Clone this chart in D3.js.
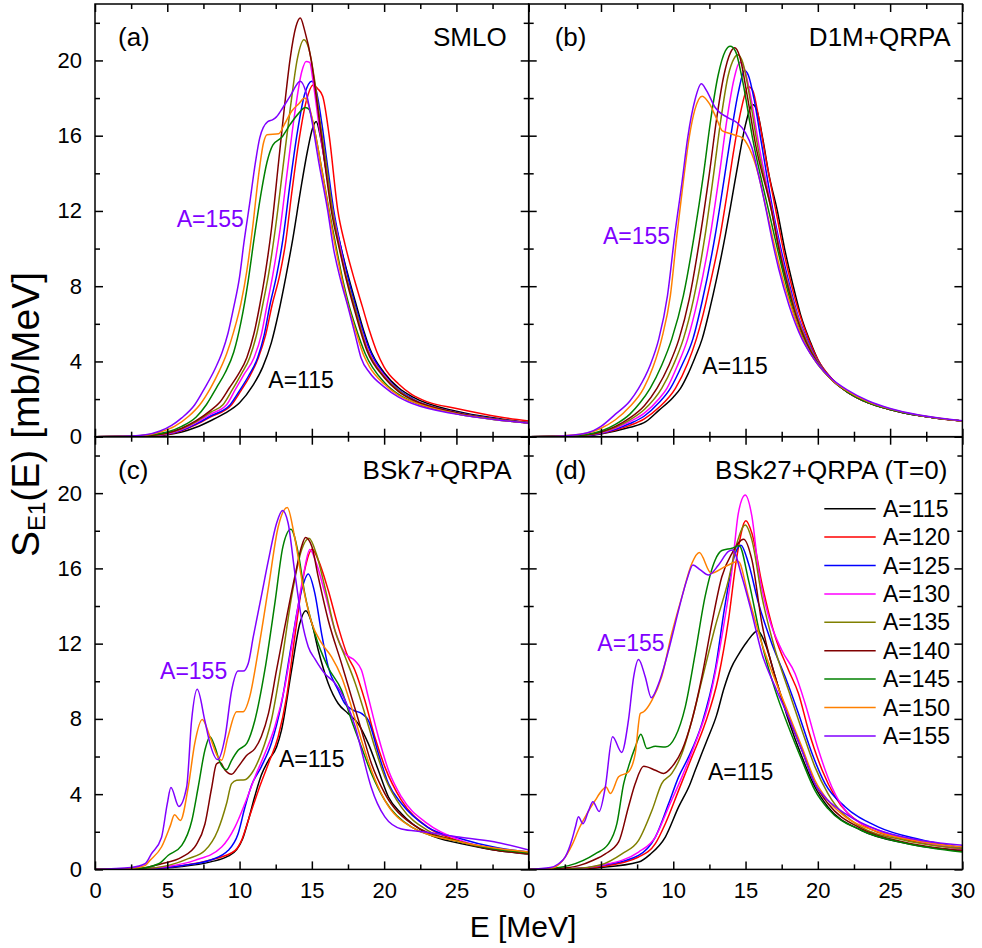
<!DOCTYPE html>
<html>
<head>
<meta charset="utf-8">
<script src="https://cdn.jsdelivr.net/npm/d3@7"></script>
<style>
  body { margin: 0; background: #ffffff; }
  svg text { font-family: "Liberation Sans", Arial, sans-serif; fill: #000; }
</style>
</head>
<body>
<div id="chart"></div>
<script>
  // Mass numbers and the colour of each curve
  var masses = [115, 120, 125, 130, 135, 140, 145, 150, 155];
  var colours = ["#000000", "#ff0000", "#0000ff", "#ff00ff", "#808000",
                 "#800000", "#008000", "#ff8000", "#8000ff"];

  var xMajor = [0, 5, 10, 15, 20, 25, 30];
  var xMinor = [2.5, 7.5, 12.5, 17.5, 22.5, 27.5];
  var yMajor = [0, 4, 8, 12, 16, 20];
  var yMinor = [2, 6, 10, 14, 18, 22];

  var panelTags = ["(a)", "(b)", "(c)", "(d)"];
  var panelTitles = ["SMLO", "D1M+QRPA", "BSk7+QRPA", "BSk27+QRPA (T=0)"];

  // S_E1(E), [E (MeV), S (mb/MeV)], one list per mass (115 ... 155)
  var smlo = [
    [[0,0],[2,0.01],[4,0.04],[5,0.1],[6,0.25],[7,0.5],[8,0.85],[9,1.25],[10,1.8],[10.9,2.7],[11.6,3.7],[12.2,5.0],[12.7,6.6],[13.2,8.5],[13.7,10.6],[14.2,13.0],[14.7,15.2],[15.05,16.4],[15.3,16.75],[15.6,15.9],[16,14.1],[16.45,12],[17,10.1],[17.6,8.3],[18,7.2],[18.6,5.6],[19,4.7],[20,3.4],[21,2.6],[22,2.1],[25,1.35],[28,0.95],[30,0.75]],
    [[0,0],[2,0.01],[4,0.05],[5,0.13],[6,0.32],[7,0.64],[8,1.05],[9.45,1.7],[10.1,2.45],[10.7,3.2],[11.3,4.2],[11.8,5.4],[12.25,7.0],[12.78,8.6],[13.2,10.4],[13.6,12.9],[14.1,15.7],[14.6,17.8],[15.1,18.7],[15.4,18.5],[15.75,18.1],[16.2,16.0],[16.8,12.0],[17.3,10.2],[17.96,8.3],[18.5,6.9],[19,5.6],[19.5,4.5],[20,3.7],[21,2.8],[21.9,2.25],[23,1.85],[25,1.5],[28,1.05],[30,0.83]],
    [[0,0],[2,0.01],[4,0.05],[5,0.14],[6,0.34],[7,0.68],[8,1.1],[9.35,1.7],[10,2.45],[10.6,3.2],[11.25,4.2],[11.7,5.4],[12.1,7.0],[12.57,8.6],[13,10.5],[13.5,13.5],[14,16.2],[14.5,18.2],[15,18.9],[15.3,18.4],[15.7,16.6],[16.1,14.3],[16.5,12.1],[17,10.1],[17.55,8.3],[18,7.0],[19,4.6],[20,3.3],[21,2.5],[22,2.0],[25,1.3],[28,0.92],[30,0.74]],
    [[0,0],[2,0.01],[4,0.06],[5,0.16],[6,0.38],[7,0.75],[8,1.2],[9.1,1.7],[9.7,2.5],[10.3,3.3],[11.0,4.2],[11.5,5.4],[11.9,7.0],[12.3,8.6],[12.8,11.0],[13.3,14.1],[13.8,17.1],[14.3,19.4],[14.6,19.95],[14.85,19.9],[15.1,18.8],[15.5,16.5],[16,14.1],[16.45,12],[17,9.9],[17.45,8.3],[18,6.8],[18.9,4.6],[20,3.25],[21,2.45],[22,1.95],[25,1.28],[28,0.9],[30,0.73]],
    [[0,0],[2,0.01],[4,0.07],[5,0.18],[6,0.42],[7,0.8],[8,1.3],[8.85,1.7],[9.5,2.5],[10.1,3.3],[10.7,4.2],[11.2,5.5],[11.6,7.0],[12.0,8.6],[12.5,11.2],[13,14.3],[13.5,17.4],[14,20.1],[14.45,21.1],[14.8,20.6],[15.2,18.9],[15.6,16.6],[16,14.5],[16.4,12.2],[16.9,10.1],[17.45,8.3],[18,6.8],[18.8,4.7],[20,3.2],[21,2.45],[22,1.95],[25,1.28],[28,0.9],[30,0.73]],
    [[0,0],[2,0.01],[4,0.08],[5,0.2],[6,0.45],[7,0.85],[8,1.4],[8.6,1.8],[9.3,2.6],[9.9,3.3],[10.5,4.2],[11,5.5],[11.4,7.0],[11.74,8.5],[12.2,11],[12.7,14.6],[13.1,17.5],[13.5,20.1],[13.9,21.8],[14.2,22.25],[14.5,21.6],[14.96,20.0],[15.4,17.5],[15.9,14.5],[16.35,12],[16.9,10.0],[17.4,8.3],[18,6.6],[18.8,4.6],[20,3.15],[21,2.4],[22,1.95],[25,1.28],[28,0.9],[30,0.73]],
    [[0,0],[2,0.02],[4,0.12],[5,0.25],[6,0.55],[7,1.05],[7.7,1.7],[8.4,2.6],[9.0,3.4],[9.6,4.5],[10.1,6.1],[10.6,8.3],[11,10.5],[11.5,13.0],[11.9,14.6],[12.3,15.5],[12.9,15.9],[13.5,16.6],[14.1,17.2],[14.55,17.5],[14.8,17.4],[15.1,16.6],[15.6,14.6],[16.2,12],[16.6,10.4],[17.15,8.3],[17.6,6.9],[18,5.9],[18.7,4.4],[20,2.9],[21,2.25],[22,1.85],[25,1.22],[28,0.88],[30,0.72]],
    [[0,0],[2,0.02],[3.5,0.08],[4.5,0.25],[5.5,0.55],[6.5,1.1],[7.25,1.7],[8,2.6],[8.6,3.5],[9.1,4.4],[9.6,5.6],[10.1,7.1],[10.5,8.8],[10.9,11.1],[11.3,13.8],[11.65,15.6],[11.9,16.05],[12.7,16.1],[13.1,16.6],[13.6,17.3],[14.1,17.7],[14.5,18.0],[14.7,17.8],[15,17.0],[15.5,15.0],[16,12.8],[16.5,10.6],[17.1,8.3],[17.5,7.0],[18,5.7],[18.6,4.3],[19,3.7],[20,2.8],[21,2.2],[22,1.85],[25,1.22],[28,0.88],[30,0.72]],
    [[0,0],[2,0.02],[3.5,0.1],[4.5,0.3],[5.3,0.6],[6,1.0],[6.9,1.7],[7.6,2.6],[8.3,3.6],[8.8,4.5],[9.2,5.5],[9.6,6.9],[10.0,8.5],[10.3,10.3],[10.7,12.4],[11.1,14.6],[11.4,15.9],[11.95,16.75],[12.3,16.85],[12.55,17.0],[13,17.5],[13.5,18.1],[14.2,18.9],[14.6,18.3],[15,16.8],[15.5,14.5],[16.1,12],[16.5,10.0],[17,8.3],[17.5,6.9],[18,5.4],[18.4,4.2],[19,3.4],[20,2.65],[21,2.1],[22,1.75],[25,1.2],[28,0.88],[30,0.72]]
  ];

  var d1m = [
    [[0,0],[2,0.01],[4,0.05],[6,0.3],[7,0.5],[8.1,0.8],[9,1.4],[10,2.1],[10.5,2.57],[11,3.3],[11.5,4.2],[12,5.2],[12.5,6.7],[13,8.4],[13.6,10.7],[14,12.4],[14.5,14.6],[15,16.6],[15.5,17.66],[15.8,17.3],[16.2,15.8],[16.6,14.0],[17.2,12],[17.7,10],[18.3,8.0],[18.8,6.5],[19.5,5.0],[20,4.1],[21,3.05],[22,2.4],[23.5,1.8],[25,1.45],[27,1.13],[30,0.83]],
    [[0,0],[2,0.01],[4,0.06],[6,0.35],[7,0.6],[8,0.95],[9,1.55],[10.15,2.57],[11,3.9],[11.6,5.2],[12,6.3],[12.6,8.3],[13.25,10.7],[13.7,12.8],[14.2,15.3],[14.7,17.4],[15.2,18.6],[15.5,18.4],[15.9,17.0],[16.4,14.8],[17.1,12],[17.6,10],[18.2,8.0],[18.7,6.6],[19.4,5.1],[20,4.1],[21,3.05],[22,2.4],[23.5,1.8],[25,1.45],[27,1.13],[30,0.83]],
    [[0,0],[2,0.01],[4,0.07],[6,0.4],[7,0.7],[8,1.1],[9,1.8],[9.8,2.57],[10.6,3.8],[11.36,5.2],[12,7.2],[12.9,10.7],[13.5,13.6],[14,16.1],[14.5,18.3],[14.93,19.47],[15.2,19.2],[15.6,17.9],[16.1,15.6],[16.9,12],[17.5,9.8],[18.1,7.9],[18.6,6.5],[19.3,5.1],[20,4.0],[21,3.0],[22,2.4],[23.5,1.8],[25,1.45],[27,1.12],[30,0.83]],
    [[0,0],[2,0.01],[4,0.08],[6,0.45],[7,0.8],[8,1.25],[9,2.0],[9.56,2.57],[10.3,3.8],[11.0,5.2],[11.7,7.3],[12.56,10.7],[13.2,14.0],[13.7,16.8],[14.2,19.0],[14.6,19.9],[14.9,19.6],[15.4,17.9],[15.9,15.6],[16.85,12],[17.4,9.9],[18,8.0],[18.6,6.4],[19.3,5.0],[20,3.95],[21,3.0],[22,2.4],[23.5,1.8],[25,1.45],[27,1.12],[30,0.83]],
    [[0,0],[2,0.01],[4,0.09],[6,0.5],[7,0.9],[8,1.45],[9.2,2.57],[10,3.8],[10.7,5.2],[11.4,7.3],[12.2,10.7],[12.8,14.0],[13.3,16.9],[13.8,19.2],[14.2,20.1],[14.47,20.3],[14.8,19.9],[15.3,18.0],[15.8,15.6],[16.8,12],[17.35,9.9],[18,7.9],[18.6,6.3],[19.3,4.95],[20,3.95],[21,3.0],[22,2.4],[23.5,1.8],[25,1.45],[27,1.12],[30,0.83]],
    [[0,0],[2,0.02],[4,0.1],[6,0.55],[7,1.0],[8,1.65],[8.87,2.57],[9.7,3.8],[10.4,5.2],[11.1,7.3],[11.87,10.7],[12.5,14.0],[13.0,16.9],[13.5,19.2],[13.95,20.4],[14.24,20.67],[14.6,20.2],[15.1,18.2],[15.7,15.5],[16.8,12],[17.3,10.0],[17.95,7.9],[18.5,6.4],[19.2,5.0],[20,3.9],[21,3.0],[22,2.4],[23.5,1.8],[25,1.45],[27,1.12],[30,0.83]],
    [[0,0],[2,0.02],[4,0.12],[6,0.65],[7,1.2],[7.7,1.8],[8.4,2.57],[9.2,3.8],[9.9,5.2],[10.7,7.5],[11.45,10.7],[12.1,14.0],[12.6,16.9],[13.1,19.2],[13.6,20.5],[13.94,20.76],[14.3,20.5],[14.8,18.9],[15.5,15.8],[16.6,12],[17.2,10],[17.8,8.1],[18.4,6.4],[19.1,5.0],[20,3.85],[21,3.0],[22,2.4],[23.5,1.8],[25,1.45],[27,1.12],[30,0.83]],
    [[0,0],[2,0.03],[4,0.18],[5,0.45],[6,0.9],[7,1.6],[7.95,2.57],[8.6,3.7],[9.2,5.2],[9.8,7.5],[10.25,10.7],[10.7,13.6],[11.1,15.9],[11.5,17.4],[12.0,18.1],[12.5,17.7],[13.0,16.9],[13.4,16.25],[14.0,16.1],[14.4,16.0],[14.75,15.9],[15.45,15.0],[15.9,13.9],[16.4,12.2],[16.9,10.5],[17.5,8.6],[18.2,6.8],[18.9,5.3],[19.5,4.4],[20,3.85],[21,3.0],[22,2.45],[23.5,1.85],[25,1.48],[27,1.14],[30,0.84]],
    [[0,0],[2,0.03],[4,0.2],[5,0.55],[6,1.2],[7,1.9],[7.6,2.57],[8.4,3.8],[9.0,5.2],[9.6,7.5],[10.1,10.7],[10.6,13.5],[11.0,15.9],[11.5,17.9],[11.94,18.76],[12.3,18.4],[12.9,17.5],[13.8,16.95],[14.4,16.7],[15.0,16.15],[15.45,15.35],[15.9,13.9],[16.36,12.3],[16.8,10.6],[17.3,8.9],[18,7.0],[18.9,5.2],[19.5,4.4],[20,3.85],[21,3.05],[22,2.5],[23.5,1.9],[25,1.5],[27,1.15],[30,0.85]]
  ];

  var bsk7 = [
    [[0,0],[3,0.02],[6,0.15],[8,0.4],[9.2,0.7],[9.8,1.05],[10.2,1.6],[10.6,2.6],[11.06,3.9],[11.5,5.0],[12.0,5.8],[12.56,6.5],[12.9,7.4],[13.6,10.6],[14.17,13.08],[14.58,13.75],[15.0,13.08],[15.44,11.66],[16.13,9.9],[16.82,8.82],[17.5,8.29],[18.2,7.75],[18.9,6.7],[19.6,5.27],[20.3,3.85],[21.2,2.96],[23.0,1.9],[25.3,1.37],[27.5,1.05],[30,0.8]],
    [[0,0],[3,0.02],[6,0.2],[8,0.5],[9.68,1.0],[10.14,1.54],[10.6,2.6],[11.3,4.2],[12.0,5.63],[12.67,7.05],[13.25,9.17],[13.82,12.37],[14.5,15.9],[15.02,17.02],[15.44,16.45],[16.13,14.85],[16.82,12.9],[17.5,11.3],[17.97,10.6],[18.66,9.0],[19.35,7.05],[20.05,5.45],[21.2,3.67],[23.0,2.25],[25.3,1.5],[27.5,1.1],[30,0.83]],
    [[0,0],[3,0.02],[6,0.2],[8,0.5],[9.2,1.0],[9.9,1.9],[10.37,3.3],[10.83,4.47],[11.5,5.45],[12.2,6.7],[12.9,8.82],[13.6,12.0],[14.29,14.85],[14.75,15.7],[15.2,14.7],[15.67,12.55],[16.13,10.77],[16.82,9.53],[17.28,8.82],[17.86,8.46],[18.43,8.29],[18.9,7.93],[19.6,6.16],[20.3,4.56],[21.2,3.5],[23.0,2.25],[25.3,1.63],[27.5,1.2],[30,0.92]],
    [[0,0],[3,0.03],[5,0.15],[6.9,0.48],[8.76,1.19],[9.68,2.25],[10.37,3.5],[11.06,4.9],[11.75,6.16],[12.44,7.58],[13.13,9.7],[13.82,12.9],[14.4,15.56],[14.86,17.0],[15.3,16.3],[15.9,14.7],[16.6,12.7],[17.28,11.5],[17.97,11.1],[18.43,10.6],[18.9,9.17],[19.6,7.05],[20.3,5.27],[21.2,3.85],[23.0,2.43],[25.3,1.54],[27.5,1.1],[30,0.83]],
    [[0,0],[3,0.03],[5,0.2],[6.45,0.57],[7.6,1.0],[8.5,2.08],[9.1,3.5],[9.45,4.56],[9.8,4.74],[10.37,4.77],[10.83,5.1],[11.5,6.16],[12.2,7.93],[12.9,10.95],[13.6,14.5],[14.3,17.0],[14.8,17.6],[15.3,16.8],[15.9,15.0],[16.6,12.7],[17.3,11.3],[18.0,9.9],[18.66,8.29],[19.35,6.5],[20.05,4.9],[21.2,3.3],[23.0,2.08],[25.3,1.46],[27.5,1.1],[30,0.83]],
    [[0,0],[3,0.04],[4.6,0.3],[6.0,0.65],[7.0,1.3],[7.6,2.4],[8.06,4.3],[8.4,5.6],[8.64,5.7],[9.0,5.27],[9.45,5.06],[9.9,5.45],[10.5,6.07],[11.06,6.42],[11.5,7.05],[12.0,8.29],[12.56,10.6],[13.13,12.9],[13.82,15.56],[14.29,17.16],[14.56,17.64],[15.0,17.16],[15.44,15.56],[16.13,13.26],[17.05,10.95],[17.74,9.17],[18.43,7.4],[19.12,5.63],[20.05,4.03],[21.9,2.43],[25.3,1.46],[27.5,1.05],[30,0.83]],
    [[0,0],[3,0.05],[4.4,0.3],[5.07,0.75],[6.0,1.28],[6.7,2.6],[7.14,4.38],[7.6,6.33],[7.95,7.05],[8.3,6.5],[8.64,5.7],[9.1,5.3],[9.45,5.8],[9.9,6.33],[10.5,6.7],[11.06,7.93],[11.75,10.6],[12.44,14.14],[13.0,17.16],[13.55,18.08],[14.06,16.8],[14.5,14.7],[15.2,12.55],[16.1,10.77],[17.05,9.53],[17.74,7.93],[18.43,6.5],[19.12,5.1],[20.05,3.67],[21.9,2.25],[25.3,1.46],[27.5,1.1],[30,0.87]],
    [[0,0],[2.5,0.05],[3.46,0.2],[3.8,0.48],[4.6,1.19],[5.2,2.3],[5.5,2.9],[5.9,2.6],[6.45,4.38],[6.9,6.7],[7.42,7.97],[7.95,7.05],[8.5,5.98],[8.76,5.8],[9.2,7.05],[9.8,8.38],[10.25,8.38],[10.7,9.17],[11.3,11.66],[12.0,15.0],[12.67,18.2],[13.3,19.24],[13.8,17.7],[14.4,15.0],[15.0,13.08],[15.7,12.0],[16.36,11.3],[17.05,10.24],[17.74,8.64],[18.43,6.87],[19.12,5.27],[20.05,3.67],[21.9,2.25],[25.3,1.46],[27.5,1.15],[30,0.92]],
    [[0,0],[2.5,0.1],[3.46,0.3],[3.9,0.83],[4.6,1.7],[5.0,3.5],[5.25,4.35],[5.8,3.35],[6.34,4.38],[6.68,7.9],[7.07,9.57],[7.6,7.9],[7.95,6.7],[8.48,5.84],[9.0,7.05],[9.45,9.5],[9.9,10.54],[10.25,10.54],[10.6,10.95],[10.95,12.37],[11.5,14.5],[12.0,16.45],[12.56,18.4],[12.97,19.08],[13.36,18.4],[13.8,15.9],[14.3,13.26],[14.75,11.84],[15.2,11.2],[15.9,10.4],[16.6,9.9],[17.3,9.0],[18.0,7.58],[18.43,6.33],[19.1,4.38],[20.05,2.79],[21.2,2.15],[22.7,2.0],[25.0,1.74],[27.6,1.47],[30,1.03]]
  ];

  var bsk27 = [
    [[0,0],[3,0.03],[5,0.1],[7.6,0.39],[8.4,0.8],[9.45,1.72],[10.37,3.32],[11.14,4.5],[11.52,5.27],[12.3,6.8],[13.0,8.2],[13.5,9.6],[14.0,10.7],[14.5,11.4],[15.1,12.1],[15.85,12.69],[16.36,12.0],[17.05,10.24],[17.97,7.93],[18.9,5.98],[19.8,4.38],[20.7,3.32],[23.0,2.08],[26,1.4],[30,0.98]],
    [[0,0],[3,0.03],[5,0.15],[7.6,0.66],[8.76,1.37],[9.45,2.43],[10.37,4.2],[11.29,5.98],[12.2,7.75],[13.13,10.24],[13.82,13.26],[14.4,16.63],[15.02,18.53],[15.44,17.87],[16.13,15.2],[17.05,12.37],[17.97,10.6],[18.66,9.35],[19.35,7.4],[20.3,5.27],[21.2,3.85],[23.0,2.43],[26,1.6],[30,1.1]],
    [[0,0],[3,0.03],[5,0.2],[7.6,0.75],[8.76,1.72],[9.68,3.5],[10.37,4.92],[11.06,5.98],[11.98,7.75],[12.9,10.6],[13.6,14.14],[14.29,16.8],[14.68,17.23],[15.2,16.27],[15.9,14.14],[16.82,12.0],[17.74,10.24],[18.66,8.29],[19.6,6.16],[20.5,4.56],[21.9,3.32],[24.2,2.25],[27,1.6],[30,1.15]],
    [[0,0],[3,0.03],[5,0.22],[7.6,0.92],[8.76,1.72],[9.68,3.32],[10.6,4.92],[11.52,6.7],[12.44,8.82],[13.36,12.37],[14.06,15.9],[14.5,18.93],[14.98,19.9],[15.44,18.76],[15.9,15.9],[16.6,13.43],[17.5,11.66],[18.43,10.4],[19.12,8.82],[20.05,6.33],[20.97,4.38],[22.1,2.96],[24.2,2.08],[27,1.5],[30,1.05]],
    [[0,0],[3,0.04],[5,0.25],[6.45,0.83],[7.6,1.54],[8.53,3.14],[9.2,4.56],[9.9,5.1],[10.6,6.16],[11.29,7.93],[11.98,10.06],[12.9,12.9],[13.82,15.39],[14.4,17.34],[14.98,18.3],[15.44,17.5],[16.13,14.5],[17.05,11.66],[17.97,9.53],[18.9,7.4],[19.8,5.45],[20.7,4.03],[23.0,2.25],[26,1.55],[30,1.1]],
    [[0,0],[2,0.05],[3.46,0.2],[4.5,0.5],[5.3,0.83],[6.22,1.46],[6.9,3.32],[7.37,4.56],[7.95,5.48],[8.76,5.27],[9.33,5.1],[9.9,5.45],[10.6,6.33],[11.29,7.93],[11.98,10.24],[12.67,13.08],[13.36,15.56],[14.06,16.8],[14.86,17.55],[15.44,16.45],[16.13,13.08],[17.05,10.24],[17.97,8.1],[18.9,6.33],[19.8,4.56],[20.7,3.5],[23.0,2.17],[26,1.45],[30,1.0]],
    [[0,0],[1.5,0.05],[2.76,0.2],[4.6,0.83],[5.53,1.37],[6.1,2.43],[6.57,4.56],[6.9,5.45],[7.37,6.5],[7.76,7.19],[8.18,6.42],[8.76,6.55],[9.45,6.5],[10.14,7.05],[10.83,8.64],[11.52,11.48],[12.2,14.5],[12.9,16.45],[13.36,16.95],[14.06,17.07],[14.56,17.2],[15.2,15.39],[16.13,12.0],[17.05,9.53],[17.97,7.58],[18.9,5.8],[19.8,4.2],[20.7,3.23],[23.0,2.08],[26,1.4],[30,0.92]],
    [[0,0],[1.5,0.05],[2.38,0.5],[3.0,1.3],[3.5,2.2],[4.03,2.96],[4.6,3.67],[5.07,4.2],[5.35,4.38],[5.65,4.03],[6.22,4.92],[6.9,5.18],[7.37,6.16],[7.72,8.29],[7.95,8.38],[8.53,9.0],[9.2,10.24],[9.9,12.55],[10.6,14.5],[11.29,16.27],[11.8,16.84],[12.63,15.74],[13.6,16.1],[14.5,16.36],[15.2,14.5],[16.13,12.0],[17.05,10.06],[17.97,8.29],[18.9,6.5],[19.8,4.74],[20.7,3.67],[21.9,2.79],[24.2,1.99],[27,1.5],[30,1.19]],
    [[0,0],[1.5,0.1],[2.07,0.3],[2.53,0.66],[3.0,1.6],[3.23,2.25],[3.44,2.8],[3.75,2.43],[4.15,3.14],[4.44,3.6],[4.87,3.08],[5.3,4.38],[5.8,7.05],[6.43,6.22],[6.9,7.93],[7.26,10.24],[7.6,11.16],[8.06,10.24],[8.48,9.12],[8.99,9.88],[9.68,11.66],[10.37,13.79],[10.94,15.39],[11.36,16.18],[11.87,15.92],[12.44,15.65],[13.13,16.18],[13.82,16.9],[14.1,16.98],[14.75,15.56],[15.44,13.6],[16.13,11.48],[17.05,9.7],[17.97,8.1],[18.9,6.33],[19.8,4.56],[20.7,3.67],[21.9,2.96],[24.2,2.08],[26.5,1.63],[30,1.28]]
  ];

  // Where the "A=155" / "A=115" annotations sit, in data units [E, S] (text start, baseline)
  var label155 = [[5.65, 11.16], [5.14, 10.23], [4.5, 10.14], [4.75, 11.6]];
  var label115 = [[11.99, 2.57], [12.01, 3.32], [12.73, 5.44], [12.4, 4.77]];

  var allData = [smlo, d1m, bsk7, bsk27];

  // ---- layout ----
  var width = 982, height = 948;
  var panelW = 433.7, panelH = 432.7;
  var lefts = [95, 95 + panelW];
  var tops = [4, 4 + panelH];
  var font = '"Liberation Sans", Arial, sans-serif';

  var svg = d3.select("#chart").append("svg")
      .attr("width", width)
      .attr("height", height);

  svg.append("rect").attr("width", width).attr("height", height).attr("fill", "#fff");

  var x = d3.scaleLinear().domain([0, 30]).range([0, panelW]);
  var y = d3.scaleLinear().domain([0, 23]).range([panelH, 0]);

  var line = d3.line()
      .x(function(d) { return x(d[0]); })
      .y(function(d) { return y(d[1]); })
      .curve(d3.curveMonotoneX);

  function styleAxis(sel) {
    sel.select(".domain").remove();
    sel.selectAll(".tick line").attr("stroke", "#000").attr("stroke-width", 1.5);
    sel.selectAll(".tick text")
        .attr("font-family", font)
        .attr("font-size", 22)
        .attr("fill", "#000");
  }

  for (var i = 0; i < 4; i++) {
    var col = i % 2, row = Math.floor(i / 2);
    var g = svg.append("g")
        .attr("transform", "translate(" + lefts[col] + "," + tops[row] + ")");

    g.append("clipPath").attr("id", "clip" + i)
      .append("rect").attr("width", panelW).attr("height", panelH);

    // curves
    var curves = g.append("g").attr("clip-path", "url(#clip" + i + ")");
    allData[i].forEach(function(series, k) {
      curves.append("path")
          .datum(series)
          .attr("fill", "none")
          .attr("stroke", colours[k])
          .attr("stroke-width", 1.5)
          .attr("d", line);
    });

    // axes: major + minor ticks pointing into the panel on all four sides
    var showX = row === 1, showY = col === 0;
    var bottomFmt = (function(c) {
      return function(d) { return (c === 0 && d === 30) ? "" : d; };
    })(col);

    g.append("g").attr("transform", "translate(0," + panelH + ")")
        .call(d3.axisBottom(x).tickValues(xMajor).tickSize(-8).tickPadding(13)
              .tickFormat(showX ? bottomFmt : ""))
        .call(styleAxis);
    g.append("g").attr("transform", "translate(0," + panelH + ")")
        .call(d3.axisBottom(x).tickValues(xMinor).tickSize(-5).tickFormat(""))
        .call(styleAxis);
    g.append("g")
        .call(d3.axisTop(x).tickValues(xMajor).tickSize(-8).tickFormat(""))
        .call(styleAxis);
    g.append("g")
        .call(d3.axisTop(x).tickValues(xMinor).tickSize(-5).tickFormat(""))
        .call(styleAxis);

    g.append("g")
        .call(d3.axisLeft(y).tickValues(yMajor).tickSize(-8).tickPadding(13)
              .tickFormat(showY ? d3.format("d") : ""))
        .call(styleAxis);
    g.append("g")
        .call(d3.axisLeft(y).tickValues(yMinor).tickSize(-5).tickFormat(""))
        .call(styleAxis);
    g.append("g").attr("transform", "translate(" + panelW + ",0)")
        .call(d3.axisRight(y).tickValues(yMajor).tickSize(-8).tickFormat(""))
        .call(styleAxis);
    g.append("g").attr("transform", "translate(" + panelW + ",0)")
        .call(d3.axisRight(y).tickValues(yMinor).tickSize(-5).tickFormat(""))
        .call(styleAxis);

    // frame
    g.append("rect")
        .attr("width", panelW).attr("height", panelH)
        .attr("fill", "none").attr("stroke", "#000").attr("stroke-width", 1.5);

    // panel tag and model name
    g.append("text")
        .attr("x", col === 0 ? 23 : 26).attr("y", 42)
        .attr("font-size", 26)
        .text(panelTags[i]);
    var titleRight = [[411.7, 422], [416.7, 418.6]][row][col];
    g.append("text")
        .attr("x", titleRight).attr("y", 42)
        .attr("text-anchor", "end")
        .attr("font-size", 26)
        .text(panelTitles[i]);

    // annotations
    g.append("text")
        .attr("x", x(label155[i][0])).attr("y", y(label155[i][1]))
        .attr("font-size", 23).style("fill", colours[8])
        .text("A=" + masses[8]);
    g.append("text")
        .attr("x", x(label115[i][0])).attr("y", y(label115[i][1]))
        .attr("font-size", 23)
        .text("A=" + masses[0]);

    // legend in panel (d)
    if (i === 3) {
      var leg = g.append("g").attr("transform", "translate(295.6,72)");
      masses.forEach(function(m, k) {
        var item = leg.append("g").attr("transform", "translate(0," + (k * 28.4) + ")");
        item.append("line")
            .attr("x1", 0).attr("x2", 51.4)
            .attr("stroke", colours[k]).attr("stroke-width", 1.5);
        item.append("text")
            .attr("x", 58.7).attr("y", 8)
            .attr("font-size", 23)
            .text("A=" + m);
      });
    }
  }

  // axis titles
  svg.append("text")
      .attr("x", 523).attr("y", 937)
      .attr("text-anchor", "middle")
      .attr("font-size", 30)
      .text("E [MeV]");

  var yl = svg.append("text")
      .attr("transform", "translate(39,557) rotate(-90)")
      .attr("text-anchor", "start")
      .attr("font-size", 39);
  yl.append("tspan").text("S");
  yl.append("tspan").attr("font-size", 24).attr("dy", 6).text("E1");
  yl.append("tspan").attr("dy", -6).text("(E) [mb/MeV]");
</script>
</body>
</html>
